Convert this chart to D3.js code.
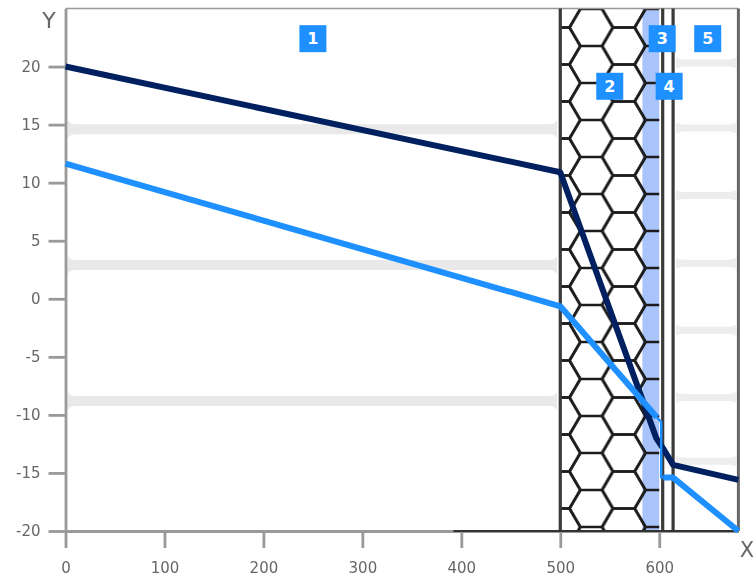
<!DOCTYPE html>
<html><head><meta charset="utf-8">
<script src="https://cdn.jsdelivr.net/npm/d3@7"></script>
<style>
html,body{margin:0;padding:0;background:#fff;overflow:hidden}
svg{display:block;filter:blur(0.6px)}
text{font-family:"DejaVu Sans",sans-serif}
</style></head><body>
<div id="chart"></div>
<script>
const xTicks=[0,100,200,300,400,500,600];
const yTicks=[-20,-15,-10,-5,0,5,10,15,20];
const darkX=[0,500,597,604,614,680];
const darkY=[20,10.9,-12,-12.9,-14.3,-15.6];
const lightUpperX=[0,500,597.5];
const lightUpperY=[11.65,-0.65,-10.2];
const lightThinX=[597.5,602,602,604];
const lightThinY=[-10.2,-10.6,-15.4,-15.4];
const lightLowerX=[604,614,680];
const lightLowerY=[-15.4,-15.4,-20];
const layerEdges=[500,603.5,614,680];
const bandsLeft=[14.6,2.9,-8.8];
const bandsRight=[20.3,14.7,8.9,3.05,-2.7,-8.5,-14];
const tagNames=["1","2","3","4","5"];
const tagX=[250,550,603,610,649];
const tagY=[22.4,18.3,22.4,18.3,22.4];

const W=755,H=579;
const x=d3.scaleLinear().domain([0,680]).range([65.5,738.4]);
const y=d3.scaleLinear().domain([-20,25]).range([531,8.5]);
const svg=d3.select('#chart').append('svg').attr('width',W).attr('height',H);
const defs=svg.append('defs');

// honeycomb pattern
const s=21.6,colGap=32.6,rowGap=37;
const pat=defs.append('pattern').attr('id','hex').attr('patternUnits','userSpaceOnUse')
 .attr('width',colGap*2).attr('height',rowGap).attr('x',591.2-colGap*0.5).attr('y',27.5-rowGap/2);
const hexPath=(cx,cy)=>{
  const p=d3.path();
  [[-1,0],[-.5,-1],[.5,-1],[1,0],[.5,1],[-.5,1]].forEach((v,i)=>{
    const px=cx+v[0]*s,py=cy+v[1]*rowGap/2;
    i?p.lineTo(px,py):p.moveTo(px,py);
  });
  p.closePath();return p.toString();
};
[[colGap*.5,rowGap/2],[colGap*1.5,0],[colGap*1.5,rowGap],[-colGap*.5,0],[-colGap*.5,rowGap],[colGap*2.5,rowGap/2]].forEach(c=>{
  pat.append('path').attr('d',hexPath(c[0],c[1])).attr('fill','none').attr('stroke','#1c1c1c').attr('stroke-width',2.7);
});

// grey bands with flared ends
const bandPath=(x0,x1,v,h,f)=>{
  const c=y(v),p=d3.path();
  p.moveTo(x0,c-h-f);
  p.bezierCurveTo(x0+3,c-h-1,x0+3,c-h,x0+10,c-h);
  p.lineTo(x1-10,c-h);
  p.bezierCurveTo(x1-3,c-h,x1-3,c-h-1,x1,c-h-f);
  p.lineTo(x1,c+h+f);
  p.bezierCurveTo(x1-3,c+h+1,x1-3,c+h,x1-10,c+h);
  p.lineTo(x0+10,c+h);
  p.bezierCurveTo(x0+3,c+h,x0+3,c+h+1,x0,c+h+f);
  p.closePath();return p.toString();
};
svg.append('g').selectAll('path').data(bandsLeft).join('path')
 .attr('d',v=>bandPath(x(0)+2,x(500)-3,v,5,4)).attr('fill','#e9e9e9');
svg.append('g').selectAll('path').data(bandsRight).join('path')
 .attr('d',v=>bandPath(x(614)+3,x(680)-2,v,3.5,2)).attr('fill','#ededed');

// layer 2 with honeycomb and blue strip
svg.append('rect').attr('x',x(583)).attr('y',y(25)).attr('width',x(600)-x(583)).attr('height',y(-20)-y(25)).attr('fill','#a8c4fb');
svg.append('rect').attr('x',x(500)).attr('y',y(25)).attr('width',x(600)-x(500)).attr('height',y(-20)-y(25)).attr('fill','url(#hex)');

// frame
svg.append('line').attr('x1',x(0)).attr('x2',x(680)).attr('y1',y(25)).attr('y2',y(25)).attr('stroke','#999').attr('stroke-width',1.4);
svg.append('g').selectAll('line').data(layerEdges).join('line')
 .attr('x1',d=>x(d)).attr('x2',d=>x(d)).attr('y1',y(25)).attr('y2',y(-20))
 .attr('stroke',(d,i)=>i===3?'#666':'#3a3a3a').attr('stroke-width',(d,i)=>i===3?3:3.2);

// axes
const axisStyle=g=>{
  g.selectAll('line,path').attr('stroke','#999').attr('stroke-width',2.8);
  g.selectAll('text').attr('fill','#666').style('font-size','15px').style('font-family','"DejaVu Sans",sans-serif');
};
const gx=svg.append('g').attr('transform',`translate(0,${y(-20)})`)
 .call(d3.axisBottom(x).tickValues(xTicks).tickSize(17).tickPadding(14).tickSizeOuter(0).tickFormat(d3.format('d')));
gx.call(axisStyle);
const gy=svg.append('g').attr('transform',`translate(${x(0)},0)`)
 .call(d3.axisLeft(y).tickValues(yTicks).tickSize(17).tickPadding(8).tickSizeOuter(0).tickFormat(d3.format('d')));
gy.call(axisStyle);
gy.selectAll('text').text(d=>d3.format('d')(d).replace('\u2212','-'));
// dark part of the baseline
svg.append('line').attr('x1',x(392)).attr('x2',x(680)).attr('y1',y(-20)).attr('y2',y(-20)).attr('stroke','#333').attr('stroke-width',2.2);

svg.append('text').attr('x',49).attr('y',28).attr('text-anchor','middle').attr('fill','#666').style('font-size','22px').text('Y');
svg.append('text').attr('x',747).attr('y',557).attr('text-anchor','middle').attr('fill','#666').style('font-size','21px').text('X');

// data lines
const line=d3.line().x(d=>x(d[0])).y(d=>y(d[1]));
const lineSvg=(xs,ys,c,w)=>svg.append('path').datum(d3.zip(xs,ys)).attr('d',line).attr('fill','none')
 .attr('stroke',c).attr('stroke-width',w).attr('stroke-linejoin','round');
lineSvg(darkX,darkY,'#002060',6);
lineSvg(lightUpperX,lightUpperY,'#1e90ff',6);
lineSvg(lightThinX,lightThinY,'#1e90ff',2.4);
lineSvg(lightLowerX,lightLowerY,'#1e90ff',6);

// numbered tags
const tags=svg.append('g').selectAll('g').data(tagNames).join('g')
 .attr('transform',(d,i)=>`translate(${x(tagX[i])},${y(tagY[i])})`);
tags.append('rect').attr('x',-13.5).attr('y',-13.5).attr('width',27).attr('height',27).attr('fill','#1e90ff');
tags.append('text').attr('text-anchor','middle').attr('dy','0.36em').attr('fill','#fff').style('font-size','16px').style('font-weight','bold').text(d=>d);
</script>
</body></html>
